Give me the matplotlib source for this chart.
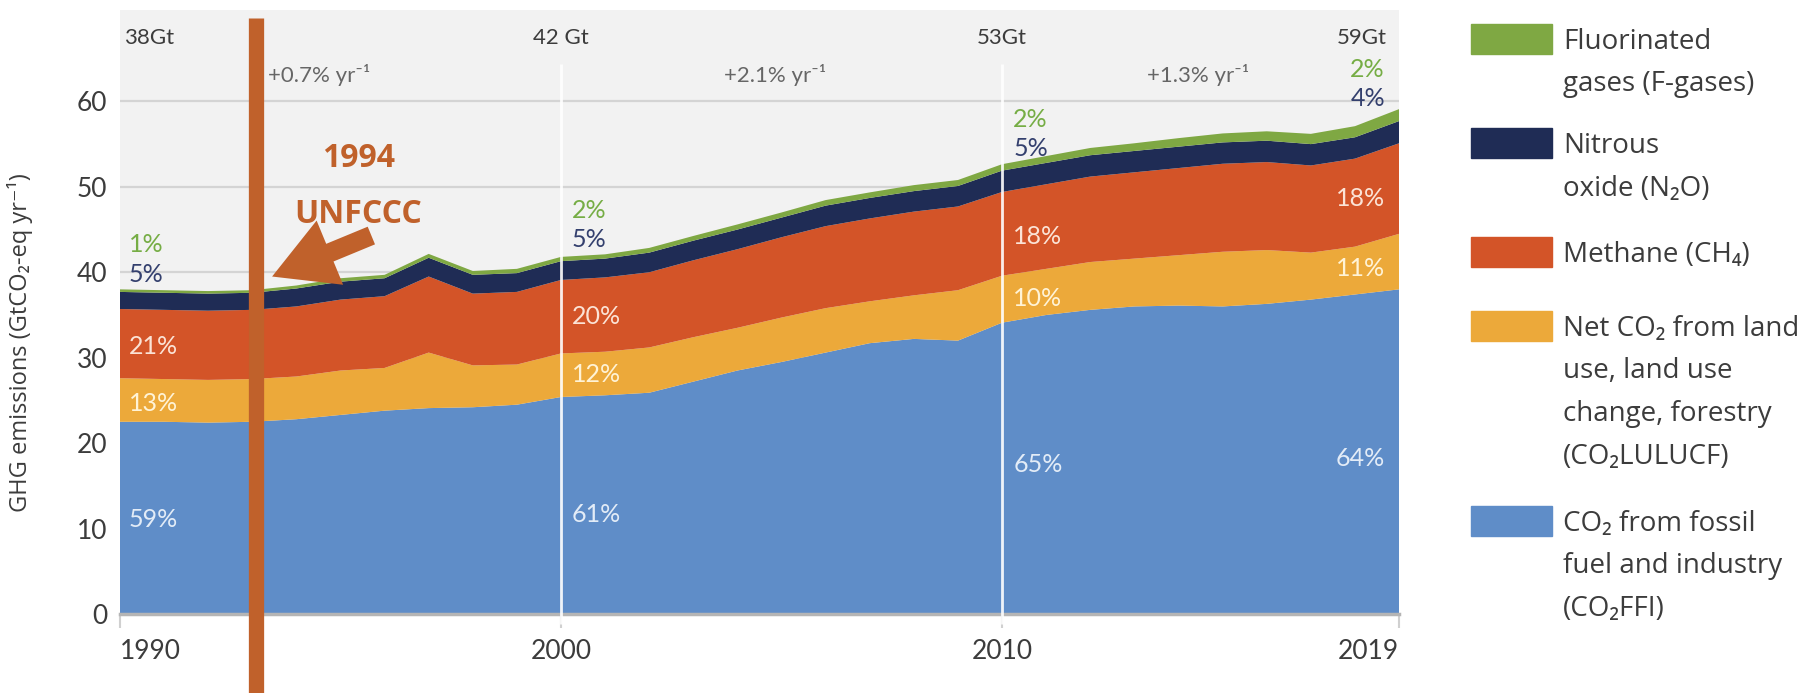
import numpy as np
import matplotlib
matplotlib.use("Agg")
import matplotlib.pyplot as plt

# data (GtCO2-eq per year)
years = list(range(1990, 2020))
co2_ffi = [22.5, 22.5, 22.4, 22.5, 22.8, 23.3, 23.8, 24.1, 24.2, 24.5,
           25.4, 25.6, 25.9, 27.2, 28.5, 29.5, 30.6, 31.7, 32.2, 32.0,
           34.1, 35.0, 35.6, 36.0, 36.1, 36.0, 36.3, 36.8, 37.4, 38.0]
co2_lulucf = [5.1, 5.0, 5.0, 5.0, 5.0, 5.2, 5.0, 6.5, 4.9, 4.7,
              5.1, 5.1, 5.3, 5.2, 5.0, 5.2, 5.2, 4.9, 5.1, 5.9,
              5.5, 5.4, 5.6, 5.6, 5.9, 6.4, 6.3, 5.5, 5.6, 6.5]
ch4 = [8.1, 8.1, 8.1, 8.1, 8.2, 8.3, 8.4, 8.9, 8.4, 8.5,
       8.6, 8.7, 8.8, 9.0, 9.2, 9.4, 9.6, 9.7, 9.8, 9.8,
       9.8, 9.9, 10.0, 10.1, 10.2, 10.3, 10.3, 10.2, 10.3, 10.6]
n2o = [2.0, 2.0, 2.0, 2.0, 2.1, 2.1, 2.1, 2.2, 2.2, 2.2,
       2.2, 2.2, 2.3, 2.3, 2.3, 2.3, 2.4, 2.4, 2.4, 2.4,
       2.5, 2.5, 2.5, 2.5, 2.5, 2.5, 2.5, 2.5, 2.5, 2.6]
f_gases = [0.3, 0.3, 0.3, 0.3, 0.35, 0.4, 0.4, 0.45, 0.45, 0.5,
           0.5, 0.5, 0.55, 0.55, 0.6, 0.6, 0.65, 0.65, 0.7, 0.7,
           0.75, 0.8, 0.85, 0.9, 1.0, 1.05, 1.1, 1.2, 1.3, 1.4]

totals = ["38Gt", "42 Gt", "53Gt", "59Gt"]
growth = ["+0.7% yr\u207b\u00b9", "+2.1% yr\u207b\u00b9", "+1.3% yr\u207b\u00b9"]
# shares per snapshot year: F-gas, N2O, CH4, LULUCF, FFI
shares_1990 = ["1%", "5%", "21%", "13%", "59%"]
shares_2000 = ["2%", "5%", "20%", "12%", "61%"]
shares_2010 = ["2%", "5%", "18%", "10%", "65%"]
shares_2019 = ["2%", "4%", "18%", "11%", "64%"]

legend_labels = ["Fluorinated\ngases (F-gases)",
                 "Nitrous\noxide (N\u2082O)",
                 "Methane (CH\u2084)",
                 "Net CO\u2082 from land\nuse, land use\nchange, forestry\n(CO\u2082LULUCF)",
                 "CO\u2082 from fossil\nfuel and industry\n(CO\u2082FFI)"]

c_ffi = "#5f8dc8"
c_lulucf = "#eca93a"
c_ch4 = "#d35428"
c_n2o = "#1f2c55"
c_fgas = "#7fa843"
c_unfccc = "#c0612b"
c_text = "#3c3c3c"

narrow = ["Lato", "DejaVu Sans"]
wide = ["Open Sans", "DejaVu Sans"]

W, H = 1806.0, 693.0
fig = plt.figure(figsize=(W / 100, H / 100), dpi=100)
ax = fig.add_axes([0.0664, 0.114, 0.7083, 0.8716])
ax.set_facecolor("#f2f2f2")

ax.stackplot(years, co2_ffi, co2_lulucf, ch4, n2o, f_gases,
             colors=[c_ffi, c_lulucf, c_ch4, c_n2o, c_fgas], linewidth=0, zorder=2)

ax.set_xlim(1990, 2019)
ax.set_ylim(0, 70.7)
for y in range(10, 70, 10):
    ax.axhline(y, color="#d4d4d4", lw=1.6, zorder=1)

# white decade markers
ax.vlines([2000, 2010], -1.2, 64.4, color="white", lw=2, alpha=0.9, zorder=3, clip_on=False)

for s in ["top", "right", "left"]:
    ax.spines[s].set_visible(False)
ax.spines["bottom"].set_color("#b5b5b5")
ax.spines["bottom"].set_linewidth(2.5)

ax.set_xticks([1990, 2000, 2010, 2019])
ax.set_yticks(range(0, 70, 10))
ax.tick_params(axis="x", length=10, width=1.5, color="#d0d0d0", pad=8, labelsize=19, labelcolor=c_text)
ax.tick_params(axis="y", length=0, pad=9, labelsize=19, labelcolor=c_text)
for lab in ax.get_xticklabels() + ax.get_yticklabels():
    lab.set_family(narrow)
xlabs = ax.get_xticklabels()
xlabs[0].set_ha("left")
xlabs[-1].set_ha("right")
ax.set_ylabel("GHG emissions (GtCO\u2082-eq yr\u207b\u00b9)", fontsize=17, color=c_text, family=wide)
ax.yaxis.set_label_coords(-0.068, 0.45)

# totals along the top
ax.text(1990.1, 66.7, totals[0], ha="left", va="baseline", fontsize=16, color=c_text, family=narrow)
ax.text(2000.0, 66.7, totals[1], ha="center", va="baseline", fontsize=16, color=c_text, family=narrow)
ax.text(2010.0, 66.7, totals[2], ha="center", va="baseline", fontsize=16, color=c_text, family=narrow)
ax.text(2018.72, 66.7, totals[3], ha="right", va="baseline", fontsize=16, color=c_text, family=narrow)

ax.text(1993.35, 62.3, growth[0], ha="left", va="baseline", fontsize=16, color="#666666", family=narrow)
ax.text(2004.85, 62.3, growth[1], ha="center", va="baseline", fontsize=16, color="#666666", family=narrow)
ax.text(2014.45, 62.3, growth[2], ha="center", va="baseline", fontsize=16, color="#666666", family=narrow)

share_colors = ["#76ad45", "#34406e", "#fbe3d6", "#fff3d6", "#e3ecf7"]


def put_shares(x, ys, labels, ha):
    # ys are the visual centres of the labels; shift to baseline
    for y, lab, col in zip(ys, labels, share_colors):
        ax.text(x, y - 1.05, lab, ha=ha, va="baseline", fontsize=18, color=col,
                family=narrow, zorder=5)


put_shares(1990.2, [43.4, 39.9, 31.5, 24.8, 11.2], shares_1990, "left")
put_shares(2000.25, [47.4, 44.0, 35.0, 28.2, 11.8], shares_2000, "left")
put_shares(2010.25, [58.0, 54.7, 44.3, 37.1, 17.7], shares_2010, "left")
put_shares(2018.68, [63.9, 60.5, 48.8, 40.6, 18.4], shares_2019, "right")

# 1994 UNFCCC marker
ax.plot([1993.08, 1993.08], [-9.5, 69.8], color=c_unfccc, lw=11, solid_capstyle="butt",
        zorder=6, clip_on=False)
ax.text(1995.4, 52.3, "1994", ha="center", va="baseline", fontsize=23, fontweight="bold",
        color=c_unfccc, family=wide, zorder=6)
ax.text(1995.4, 45.8, "UNFCCC", ha="center", va="baseline", fontsize=23, fontweight="bold",
        color=c_unfccc, family=wide, zorder=6)
ax.annotate("", xy=(1993.45, 39.5), xytext=(1995.7, 44.3),
            arrowprops=dict(arrowstyle="simple,head_length=1.8,head_width=2.0,tail_width=0.55",
                            color=c_unfccc, mutation_scale=25, lw=0, shrinkA=0, shrinkB=0),
            zorder=6)

# legend drawn by hand on the right
fill_colors = [c_fgas, c_n2o, c_ch4, c_lulucf, c_ffi]
first_line = [39, 143, 252, 326, 521]
line_step = 42.5
for col, yc, lab in zip(fill_colors, first_line, legend_labels):
    fig.patches.append(plt.Rectangle((1471 / W, 1 - (yc + 15) / H), 81 / W, 30 / H,
                                     transform=fig.transFigure, color=col))
    for i, line in enumerate(lab.split("\n")):
        yb = yc + i * line_step + 10
        fig.text(1563 / W, 1 - yb / H, line, ha="left", va="baseline", fontsize=20,
                 color=c_text, family=wide)

fig.savefig("out.png", dpi=100, facecolor="white")
